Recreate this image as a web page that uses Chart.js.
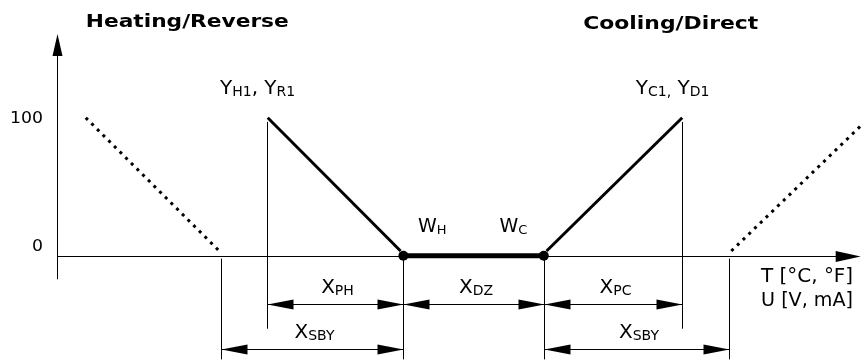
<!DOCTYPE html>
<html>
<head>
<meta charset="utf-8">
<script src="https://cdn.jsdelivr.net/npm/chart.js@4"></script>
<style>
  html, body { margin: 0; padding: 0; background: #fff; }
  #wrap { width: 866px; height: 360px; position: relative; }
</style>
</head>
<body>
<div id="wrap"><canvas id="seqChart"></canvas></div>
<script>
// breakpoints on the T / U axis
const sbyH = 23.6;
const yH1 = 30.3;
const wH = 50;
const wC = 70.3;
const yC1 = 90.3;
const sbyC = 97.1;

// output lines (x, y in %)
const heatStandbyX = [4.1, 23.3];
const heatStandbyY = [100, 4];
const heatX = [30.4, 49.6];
const heatY = [100, 3.5];
const deadX = [wH, wC];
const deadY = [0, 0];
const coolX = [70.7, yC1];
const coolY = [3.5, 100];
const coolStandbyX = [97.4, 116.5];
const coolStandbyY = [3.5, 96];

const yTicks = [0, 100];

const pts = (xs, ys) => xs.map((x, i) => ({ x: x, y: ys[i] }));

const FONT = '"DejaVu Sans", Verdana, sans-serif';

function arrowHead(ctx, x, y, dir, len, half) {
  ctx.beginPath();
  if (dir === 'r') { ctx.moveTo(x, y); ctx.lineTo(x - len, y - half); ctx.lineTo(x - len, y + half); }
  if (dir === 'l') { ctx.moveTo(x, y); ctx.lineTo(x + len, y - half); ctx.lineTo(x + len, y + half); }
  if (dir === 'u') { ctx.moveTo(x, y); ctx.lineTo(x - half, y + len); ctx.lineTo(x + half, y + len); }
  ctx.closePath();
  ctx.fill();
}

// text with subscripts: parts = [[text, isSub], ...]
function subText(ctx, parts, x, y, size, align) {
  const subSize = Math.round(size * 0.7);
  let w = 0;
  parts.forEach(p => {
    ctx.font = (p[1] ? subSize : size) + 'px ' + FONT;
    w += ctx.measureText(p[0]).width;
  });
  let cx = align === 'center' ? x - w / 2 : x;
  ctx.textAlign = 'left';
  ctx.textBaseline = 'alphabetic';
  parts.forEach(p => {
    ctx.font = (p[1] ? subSize : size) + 'px ' + FONT;
    ctx.fillText(p[0], cx, p[1] ? y + 2 : y);
    cx += ctx.measureText(p[0]).width;
  });
}

// text stretched to a given width (reference font is wider than DejaVu)
function fitText(ctx, text, x, y, font, width) {
  ctx.font = font;
  ctx.textAlign = 'left';
  const m = ctx.measureText(text).width;
  ctx.save();
  ctx.translate(x, y);
  ctx.scale(width / m, 1);
  ctx.fillText(text, 0, 0);
  ctx.restore();
}

const diagram = {
  id: 'diagram',
  afterDatasetsDraw(chart) {
    const ctx = chart.ctx;
    const xs = chart.scales.x, ys = chart.scales.y;
    const px = v => xs.getPixelForValue(v);
    const py = v => ys.getPixelForValue(v);
    ctx.save();
    ctx.strokeStyle = '#000';
    ctx.fillStyle = '#000';
    ctx.lineWidth = 1;

    // axes
    const x0 = Math.round(px(0)) + 0.5, y0 = Math.round(py(0)) + 0.5;
    ctx.beginPath();
    ctx.moveTo(x0, py(-17)); ctx.lineTo(x0, py(158));
    ctx.moveTo(x0, y0); ctx.lineTo(px(116.1) - 4, y0);
    ctx.stroke();
    arrowHead(ctx, x0, py(160.6), 'u', 22, 5);
    arrowHead(ctx, px(116.1), y0, 'r', 25, 5.5);

    // extension lines
    const ext = [[yH1, 97, -52.8], [sbyH, -2, -75], [wH, 0, -75], [wC, 0, -75], [yC1, 97, -52.8], [sbyC, -2, -75]];
    ctx.beginPath();
    ext.forEach(e => { ctx.moveTo(Math.round(px(e[0])) + 0.5, py(e[1])); ctx.lineTo(Math.round(px(e[0])) + 0.5, py(e[2])); });
    ctx.stroke();

    // dimension lines
    const dims = [
      [yH1, wH, -35.2, [['X', 0], ['PH', 1]]],
      [wH, wC, -35.2, [['X', 0], ['DZ', 1]]],
      [wC, yC1, -35.2, [['X', 0], ['PC', 1]]],
      [sbyH, wH, -67.6, [['X', 0], ['SBY', 1]]],
      [wC, sbyC, -67.6, [['X', 0], ['SBY', 1]]]
    ];
    dims.forEach(d => {
      const a = Math.round(px(d[0])) + 0.5, b = Math.round(px(d[1])) + 0.5, y = Math.round(py(d[2])) + 0.5;
      ctx.beginPath(); ctx.moveTo(a, y); ctx.lineTo(b, y); ctx.stroke();
      arrowHead(ctx, a, y, 'l', 26, 5);
      arrowHead(ctx, b, y, 'r', 26, 5);
      subText(ctx, d[3], (a + b) / 2 + 2, y - 12, 20, 'center');
    });

    // tick labels
    ctx.textBaseline = 'alphabetic';
    fitText(ctx, String(yTicks[1]), 10, py(yTicks[1]) + 5, '15px ' + FONT, 33);
    fitText(ctx, String(yTicks[0]), 32, py(yTicks[0]) - 5, '15px ' + FONT, 11);

    // unit labels
    fitText(ctx, 'T [°C, °F]', px(101.7), y0 + 25, '19px ' + FONT, 92);
    fitText(ctx, 'U [V, mA]', px(101.7), y0 + 49, '19px ' + FONT, 92);

    // point labels
    subText(ctx, [['Y', 0], ['H1', 1], [', Y', 0], ['R1', 1]], px(23.5), py(117), 20, 'left');
    subText(ctx, [['Y', 0], ['C1,', 1], [' Y', 0], ['D1', 1]], px(83.6), py(117), 20, 'left');
    subText(ctx, [['W', 0], ['H', 1]], px(52.1), y0 - 25, 19, 'left');
    subText(ctx, [['W', 0], ['C', 1]], px(63.9), y0 - 25, 19, 'left');

    // titles
    fitText(ctx, 'Heating/Reverse', px(4.1), 27, 'bold 18px ' + FONT, 203);
    fitText(ctx, 'Cooling/Direct', px(76), 29, 'bold 18px ' + FONT, 175);
    ctx.restore();
  }
};

new Chart(document.getElementById('seqChart').getContext('2d'), {
  type: 'scatter',
  data: {
    datasets: [
      { data: pts(heatStandbyX, heatStandbyY), showLine: true, borderColor: '#000', borderWidth: 3, borderDash: [3, 5], pointRadius: 0 },
      { data: pts(heatX, heatY), showLine: true, borderColor: '#000', borderWidth: 3, pointRadius: 0 },
      { data: pts(deadX, deadY), showLine: true, borderColor: '#000', backgroundColor: '#000', borderWidth: 5, pointRadius: 5, pointBorderWidth: 0 },
      { data: pts(coolX, coolY), showLine: true, borderColor: '#000', borderWidth: 3, pointRadius: 0 },
      { data: pts(coolStandbyX, coolStandbyY), showLine: true, borderColor: '#000', borderWidth: 3, borderDash: [3, 5], pointRadius: 0 }
    ]
  },
  options: {
    responsive: true,
    maintainAspectRatio: false,
    animation: false,
    layout: { padding: 0 },
    plugins: { legend: { display: false }, tooltip: { enabled: false } },
    scales: {
      x: { type: 'linear', display: false, min: -53 / 7, max: 813 / 7 },
      y: { type: 'linear', display: false, min: -102 / 1.42, max: 258 / 1.42 }
    }
  },
  plugins: [diagram]
});
</script>
</body>
</html>
